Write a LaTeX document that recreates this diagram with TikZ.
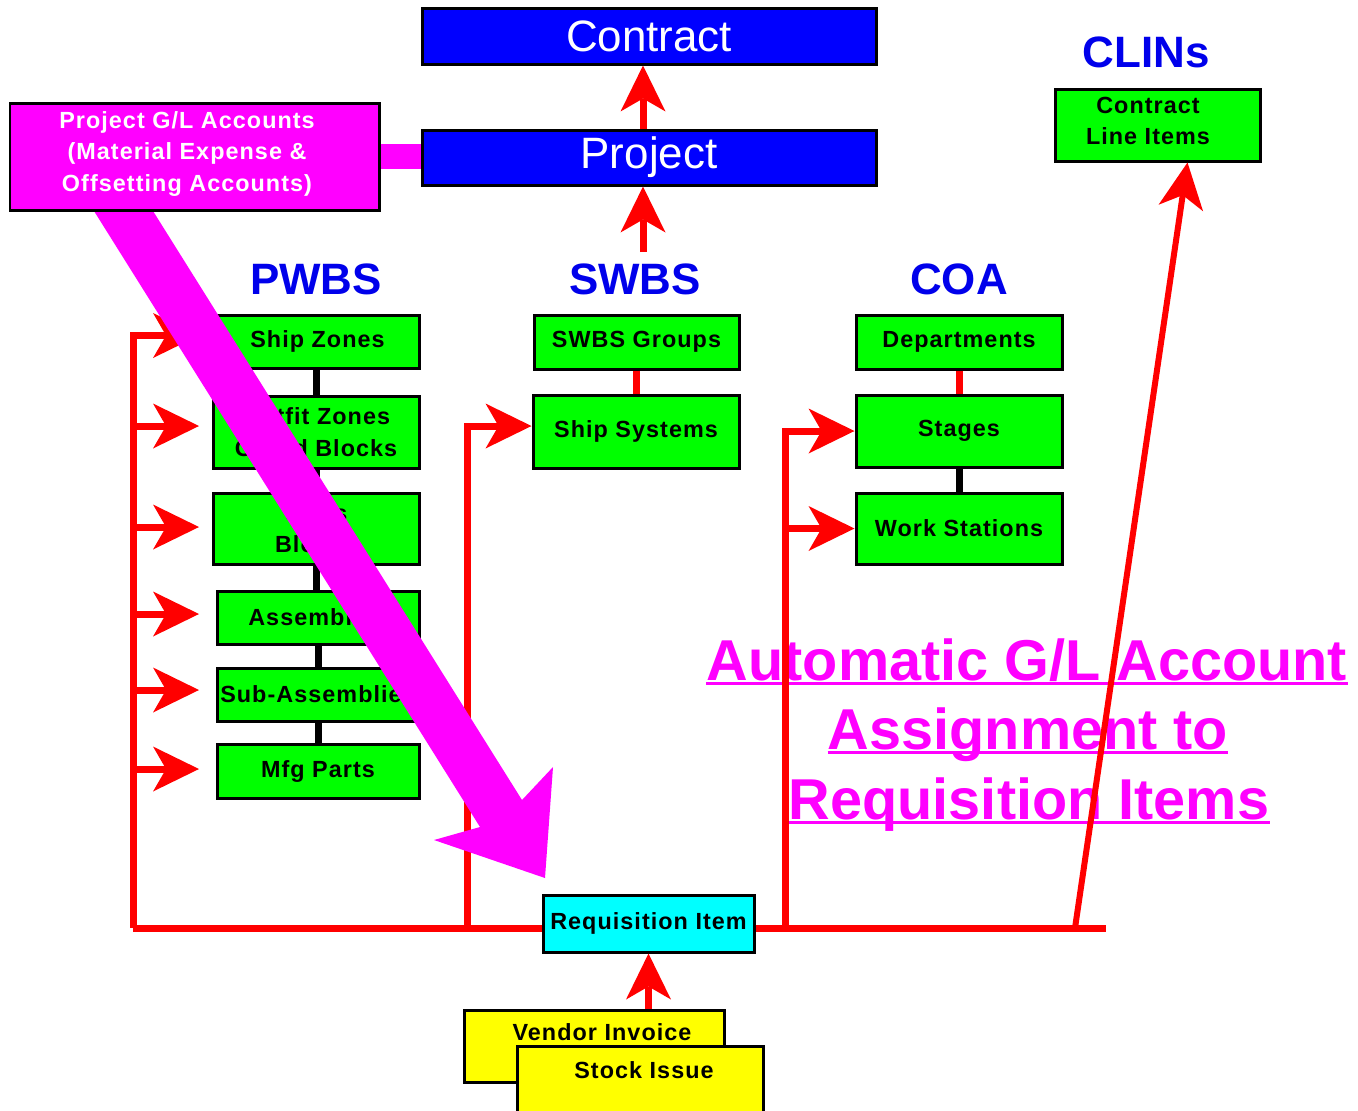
\documentclass[tikz,border=0pt]{standalone}
\usepackage{fontspec}
\setmainfont{Liberation Sans}
\newfontfamily\spacedsans[LetterSpace=4.5]{Liberation Sans}
\usetikzlibrary{arrows.meta}
\definecolor{cgreen}{RGB}{0,255,0}
\definecolor{cblue}{RGB}{0,0,255}
\definecolor{hdrblue}{RGB}{0,0,235}
\definecolor{cmag}{RGB}{255,0,255}
\definecolor{ccyan}{RGB}{0,255,255}
\definecolor{cyellow}{RGB}{255,255,0}
\definecolor{cred}{RGB}{255,0,0}
\begin{document}
\begin{tikzpicture}[x=0.02cm, y=-0.02cm,
  box/.style={draw=black, line width=0.06cm, inner sep=0pt, align=center},
  sz/.style 2 args={minimum width=#1*0.02cm, minimum height=#2*0.02cm},
  lbl/.style={font=\spacedsans\bfseries\fontsize{13.3pt}{17.8pt}\selectfont},
  gbox/.style={box, lbl, fill=cgreen},
  bluebox/.style={box, fill=cblue, text=white, font=\fontsize{25pt}{30pt}\selectfont},
  hdr/.style={text=hdrblue, font=\bfseries\fontsize{25pt}{30pt}\selectfont, anchor=base, inner sep=0pt},
  title/.style={text=cmag, font=\bfseries\fontsize{32.8pt}{40pt}\selectfont, anchor=base, inner sep=0pt},
  uline/.style={draw=cmag, line width=0.05cm},
  redline/.style={draw=cred, line width=0.14cm},
  redarr/.style={redline, -{Stealth[length=0.92cm, width=0.9cm, inset=0.26cm, line width=0pt]}},
  blkline/.style={draw=black, line width=0.14cm},
]
\useasboundingbox (0,0) rectangle (1358,1110);
\clip (0,0) rectangle (1358,1110);
\fill[white] (0,0) rectangle (1358,1110);

% top of the hierarchy
\node[bluebox, sz={454}{56}] (contract) at (649,36) {Contract};
\node[bluebox, sz={454}{55}] (project) at (649,157.5) {Project};

% CLINs column
\node[hdr] (clinsH) at (1146,67) {CLINs};
\node[gbox, sz={205}{72}] (clins) at (1157.5,125) {};
\node[lbl, align=center, inner sep=0pt] (clinsT) at (1148,121) {Contract\\Line Items};

% column headers
\node[hdr] (pwbsH) at (316,294) {PWBS};
\node[hdr] (swbsH) at (635,294) {SWBS};
\node[hdr] (coaH) at (959,294) {COA};

% PWBS boxes
\node[gbox, sz={203}{53}] (shipzones) at (317.5,341.5) {Ship Zones};
\node[gbox, sz={206}{72}] (outfit) at (316,432) {Outfit Zones\\Grand Blocks};
\node[gbox, sz={206}{71}] (units) at (316,528.5) {Units\\Blocks};
\node[gbox, sz={202}{53}] (assy) at (318,617.5) {Assemblies};
\node[gbox, sz={202}{53}] (subassy) at (318,694.5) {Sub-Assemblies};
\node[gbox, sz={202}{54}] (mfg) at (318,771) {Mfg Parts};

% SWBS boxes
\node[gbox, sz={205}{54}] (swbsgrp) at (636.5,342) {SWBS Groups};
\node[gbox, sz={206}{73}] (shipsys) at (636,431.5) {Ship Systems};

% COA boxes
\node[gbox, sz={206}{54}] (depts) at (959,342) {Departments};
\node[gbox, sz={206}{72}] (stages) at (959,431) {Stages};
\node[gbox, sz={206}{71}] (workst) at (959,528.5) {Work Stations};

% requisition and its sources
\node[box, lbl, fill=ccyan, sz={211}{57}] (req) at (648.5,923.5) {Requisition Item};
\node[box, fill=cyellow, sz={260}{72}] (vendor) at (594,1046) {};
\node[lbl, anchor=base, inner sep=0pt] (vendorT) at (602,1040) {Vendor Invoice};
\node[box, fill=cyellow, sz={246}{80}] (stock) at (640,1086) {};
\node[lbl, anchor=base, inner sep=0pt] (stockT) at (644,1078) {Stock Issue};

% tree links inside the columns
\draw[blkline] (shipzones.south -| outfit.north) -- (outfit.north);
\draw[blkline] (outfit.south) -- (units.north);
\draw[blkline] (units.south) -- (units.south |- assy.north);
\draw[blkline] (assy.south) -- (subassy.north);
\draw[blkline] (subassy.south) -- (mfg.north);
\draw[redline] (swbsgrp.south -| shipsys.north) -- (shipsys.north);
\draw[redline] (depts.south) -- (stages.north);
\draw[blkline] (stages.south) -- (workst.north);

% project links
\coordinate (projIn) at (643,252);
\draw[redarr] (projIn) -- (projIn |- project.south);
\draw[redarr] (project.north -| projIn) -- (contract.south -| projIn);

% assignment caption
\node[title] (t1) at (1027,680) {Automatic G/L Account};
\node[title] (t2) at (1028,749) {Assignment to};
\node[title] (t3) at (1029,819) {Requisition Items};
\foreach \t in {t1,t2,t3}
  \draw[uline] ([yshift=-0.07cm]\t.base west) -- ([yshift=-0.07cm]\t.base east);

% distribution bus from the requisition item
\coordinate (pwbsB) at (133,928);
\coordinate (swbsB) at (467,928);
\coordinate (coaB) at (785,928);
\coordinate (clinB) at (1075,928);
\coordinate (busE) at (1106,928);
\coordinate (ptip) at (199,0);

\draw[redline] (pwbsB -| req.west) -- (pwbsB);
\draw[redline] (busE -| req.east) -- (busE);
\draw[redarr] (pwbsB) |- ([yshift=0.12cm]shipzones.west -| ptip);
\foreach \b/\s in {outfit/0.12, units/0.03, assy/0.07, subassy/0.09, mfg/0.04}
  \draw[redarr] ([yshift=\s cm]pwbsB |- \b.west) -- ([yshift=\s cm]ptip |- \b.west);
\draw[redarr] (swbsB) |- ([yshift=0.11cm]shipsys.west);
\draw[redarr] (coaB) |- (stages.west);
\draw[redarr] (coaB |- workst.west) -- (workst.west);
\draw[redarr, line width=0.12cm] (clinB) -- ([xshift=0.6cm]clins.south);
\draw[redarr] (vendor.north -| req.south) -- (req.south);

% block arrow from the G/L accounts down to the requisition item
\fill[cmag] (94,211) -- (480,827) -- (434,840) -- (545,878) -- (553,767)
  -- (522,800) -- (153,211) -- cycle;

% project G/L accounts and their link to the project
\node[box, fill=cmag, sz={369}{107}] (gl) at (194.5,156.5) {};
\node[lbl, text=white, align=center, inner sep=0pt] (glT) at (187,154)
  {Project G/L Accounts\\(Material Expense \&\\Offsetting Accounts)};
\draw[cmag, line width=0.5cm] (gl.east) -- (gl.east -| project.west);
\end{tikzpicture}
\end{document}
